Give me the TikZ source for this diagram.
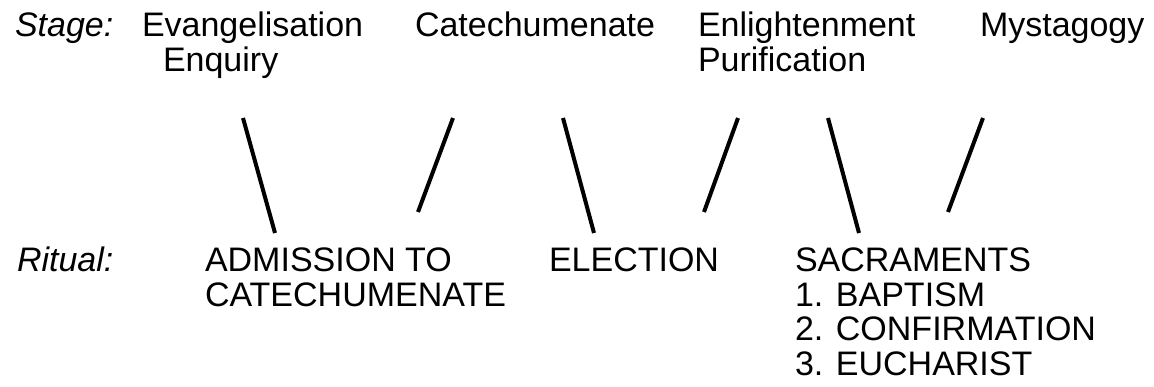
\documentclass[tikz,border=0pt]{standalone}
\usepackage{fontspec}
\setmainfont{Liberation Sans}
\begin{document}
\begin{tikzpicture}[x=1pt,y=-1pt,
  lbl/.style={anchor=base west,inner sep=0pt,outer sep=0pt,font=\fontsize{34}{34.5}\selectfont,align=left},
  slash/.style={line width=4pt,line cap=butt}]
\useasboundingbox (0,0) rectangle (1154,387);
% top row
\node[lbl] (stage) at (15,37) {\itshape Stage:};
\node[lbl] (evan) at (142,37) {Evangelisation};
\node[lbl] (enq) at (163,72) {Enquiry};
\node[lbl] (cat) at (415,37) {Catechumenate};
\node[lbl] (enl) at (698,37) {Enlightenment};
\node[lbl] (pur) at (698,72) {Purification};
\node[lbl] (mys) at (980,37) {Mystagogy};
% bottom row
\node[lbl] (ritual) at (17,272) {\itshape Ritual:};
\node[lbl] (adm) at (205,272) {ADMISSION TO};
\node[lbl] (adm2) at (205,306.5) {CATECHUMENATE};
\node[lbl] (ele) at (549,272) {ELECTION};
\node[lbl] (sac) at (795,272) {SACRAMENTS};
\node[lbl] (s1) at (795,306.5) {1. BAPTISM};
\node[lbl] (s2) at (795,341) {2. CONFIRMATION};
\node[lbl] (s3) at (795,375.5) {3. EUCHARIST};
% connector end points
\coordinate (a1) at (243,118); \coordinate (b1) at (275,233);
\coordinate (a2) at (453,118); \coordinate (b2) at (418,212);
\coordinate (a3) at (563,118); \coordinate (b3) at (594,233);
\coordinate (a4) at (738,118); \coordinate (b4) at (704,212);
\coordinate (a5) at (828,118); \coordinate (b5) at (859,233);
\coordinate (a6) at (983,118); \coordinate (b6) at (948,212);
\foreach \i in {1,...,6} {\draw[slash] (a\i) -- (b\i);}
\end{tikzpicture}
\end{document}
